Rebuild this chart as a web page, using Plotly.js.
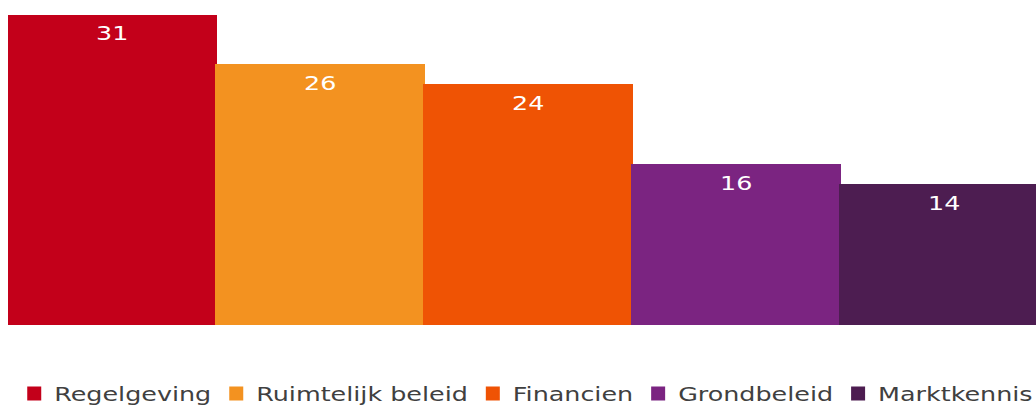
<!DOCTYPE html>
<html>
<head>
<meta charset="utf-8">
<script src="https://cdn.plot.ly/plotly-3.0.1.min.js"></script>
<style>
html, body { margin: 0; padding: 0; overflow: hidden; background: #fff; }
#chart { width: 1150px; height: 406px; }
.legendtext { transform-box: fill-box; transform-origin: left center; transform: scaleX(1.27); }
.annotation-text { transform-box: fill-box; transform-origin: center center; transform: scaleX(1.27); }
</style>
</head>
<body>
<div id="chart"></div>
<script>
const categories = ["Regelgeving", "Ruimtelijk beleid", "Financien", "Grondbeleid", "Marktkennis"];
const values = [31, 26, 24, 16, 14];
const colors = ["#C3001A", "#F39220", "#EF5304", "#7B2481", "#4D1D51"];

const traces = categories.map((c, i) => ({
  type: "bar",
  name: c,
  x: [c],
  y: [values[i]],
  marker: { color: colors[i], line: { width: 2, color: colors[i] } },
  hoverinfo: "skip",
  showlegend: true
}));

const annotations = categories.map((c, i) => ({
  x: c,
  y: values[i],
  xref: "x",
  yref: "y",
  text: String(values[i]),
  showarrow: false,
  yanchor: "top",
  yshift: -5,
  font: { family: "DejaVu Sans, Verdana, sans-serif", size: 20, color: "#FFFFFF" }
}));

const layout = {
  width: 1150,
  height: 406,
  margin: { l: 8, r: 102, t: 15, b: 81, pad: 0, autoexpand: false },
  paper_bgcolor: "#FFFFFF",
  plot_bgcolor: "#FFFFFF",
  barmode: "overlay",
  bargap: 0,
  showlegend: true,
  xaxis: {
    type: "category",
    categoryorder: "array",
    categoryarray: categories,
    range: [-0.5, 4.5],
    showticklabels: false,
    showgrid: false,
    zeroline: false,
    showline: false,
    ticks: ""
  },
  yaxis: {
    range: [0, 31],
    showticklabels: false,
    showgrid: false,
    zeroline: false,
    showline: false,
    ticks: ""
  },
  legend: {
    orientation: "h",
    x: 0.006,
    xanchor: "left",
    yref: "container",
    y: 0.079,
    yanchor: "top",
    traceorder: "normal",
    font: { family: "DejaVu Sans, Verdana, sans-serif", size: 20, color: "#404040" },
    bgcolor: "rgba(0,0,0,0)",
    itemclick: false,
    itemdoubleclick: false
  },
  annotations: annotations
};

Plotly.newPlot("chart", traces, layout, { staticPlot: true, displayModeBar: false });
</script>
</body>
</html>
